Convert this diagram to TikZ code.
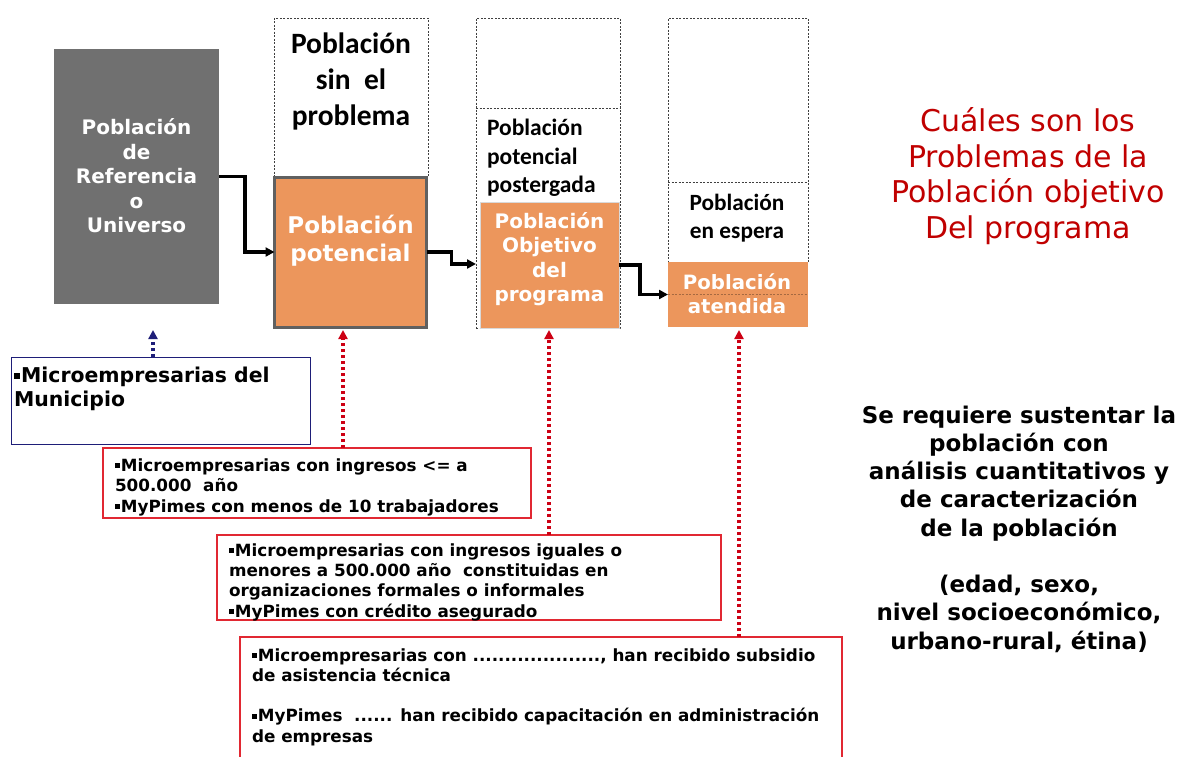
\documentclass[tikz,border=0pt]{standalone}
\usepackage{fontspec}
\setmainfont{DejaVu Sans}
\newfontfamily\calib{Carlito}
\usetikzlibrary{arrows.meta}
\definecolor{orng}{RGB}{236,150,92}
\definecolor{grybox}{RGB}{112,112,112}
\definecolor{grybord}{RGB}{96,96,96}
\definecolor{navyc}{RGB}{30,30,120}
\definecolor{redc}{RGB}{225,40,50}
\definecolor{dotred}{RGB}{205,0,20}
\definecolor{titred}{RGB}{192,0,0}
\newcommand\fsz[2]{\fontsize{#1}{#2}\selectfont}
\newcommand\bul{\raisebox{0.2em}{\rule{0.27em}{0.27em}}\hspace{0.08em}}
\tikzset{
  box/.style={rectangle, inner sep=0pt, outer sep=0pt},
  dbox/.style={box, draw=black!75, dashed, dash pattern=on 2pt off 1.5pt, line width=0.8pt},
  obox/.style={box, fill=orng},
  txt/.style={inner sep=0pt, outer sep=0pt},
  flow/.style={line width=3.2pt, -{Triangle[length=9pt,width=9pt]}},
  reddot/.style={dotred, line width=3.5pt, dash pattern=on 3pt off 3pt, -{Triangle[length=9pt,width=9pt]}},
  bluedot/.style={navyc, line width=3.5pt, dash pattern=on 3pt off 3pt, -{Triangle[length=9pt,width=9pt]}},
  rbox/.style={box, draw=redc, line width=1.2pt},
}
\begin{document}
\begin{tikzpicture}[x=1pt,y=-1pt]
\useasboundingbox (0,0) rectangle (1181,756);
% column 1
\node[box, fill=grybox, minimum width=165pt, minimum height=255pt] (gray) at (136.5,176.5) {};
\node[txt, text=white, align=center, font=\bfseries\fsz{20}{24.5}] (graytxt) at (136.5,176) {Población\\de\\Referencia\\o\\Universo};
% column 2
\node[dbox, minimum width=154pt, minimum height=158pt] (sinp) at (351,97) {};
\node[txt, align=center, font=\calib\bfseries\fsz{29.5}{36}] (sinptxt) at (351,81) {Población\\sin\ \ el\\problema};
\node[obox, draw=grybord, line width=3pt, minimum width=152pt, minimum height=150pt] (pot) at (350.5,252) {};
\node[txt, text=white, align=center, font=\bfseries\fsz{23}{28}] (pottxt) at (350.5,241) {Población\\potencial};
% column 3
\node[dbox, minimum width=144pt, minimum height=310pt] (col3) at (548,173) {};
\draw[black!75, dashed, dash pattern=on 2pt off 1.5pt, line width=0.8pt] (col3.west |- 0,108) coordinate (c3l) -- (col3.east |- 0,108) coordinate (c3r);
\node[txt, anchor=west, align=left, font=\calib\bfseries\fsz{23.5}{28.5}] (postxt) at (487,158) {Población\\potencial\\postergada};
\node[obox, draw=black!15, line width=1pt, minimum width=139pt, minimum height=126pt] (obj) at (549.5,265) {};
\node[txt, text=white, align=center, font=\bfseries\fsz{20}{24.5}] (objtxt) at (549.5,259) {Población\\Objetivo\\del\\programa};
% column 4
\node[dbox, minimum width=140pt, minimum height=244pt] (col4) at (738,140) {};
\draw[black!75, dashed, dash pattern=on 2pt off 1.5pt, line width=0.8pt] (col4.west |- 0,182) coordinate (c4l) -- (col4.east |- 0,182) coordinate (c4r);
\node[txt, align=center, font=\calib\bfseries\fsz{23.3}{28}] (esptxt) at (737,218) {Población\\en espera};
\node[obox, minimum width=140pt, minimum height=65pt] (ate) at (738,294.5) {};
\draw[orng!70!black, dashed, dash pattern=on 2pt off 1.5pt, line width=0.6pt] (ate.west) -- (ate.east);
\node[txt, text=white, align=center, font=\bfseries\fsz{19.7}{24}] (atetxt) at (737,293.5) {Población\\atendida};
% flow arrows
\draw[flow] (gray.east) -- ++(26,0) |- (pot.west);
\draw[flow] (pot.east) -- ++(25,0) |- ([xshift=-4pt,yshift=1pt]obj.west);
\draw[flow] (obj.east) -- ++(21,0) |- (ate.west);
% description boxes
\node[box, draw=navyc, line width=1pt, minimum width=299pt, minimum height=87pt] (blue) at (160.5,400.5) {};
\node[txt, anchor=west, align=left, font=\bfseries\fsz{20.4}{24}] (bluetxt) at (14,389) {\bul Microempresarias del\\Municipio};
\node[rbox, minimum width=428pt, minimum height=70pt] (red1) at (317,483) {};
\node[txt, anchor=west, align=left, font=\bfseries\fsz{16.8}{20.5}] (red1txt) at (115,487) {\bul Microempresarias con ingresos <= a\\500.000\ \ año\\\bul MyPimes con menos de 10 trabajadores};
\node[rbox, minimum width=504pt, minimum height=85pt] (red2) at (469,577.5) {};
\node[txt, anchor=west, align=left, font=\bfseries\fsz{16.8}{20.3}] (red2txt) at (229,582) {\bul Microempresarias con ingresos iguales o\\menores a 500.000 año\ \ constituidas en\\organizaciones formales o informales\\\bul MyPimes con crédito asegurado};
\node[rbox, minimum width=602pt, minimum height=124pt] (red3) at (541,699) {};
\node[txt, anchor=west, align=left, font=\bfseries\fsz{16.8}{20.3}] (red3txt) at (252,697) {\bul Microempresarias con ...................., han recibido subsidio\\de asistencia técnica\\[20.3pt]\bul MyPimes\ \ ...... han recibido capacitación en administración\\de empresas};
% dotted arrows
\coordinate (bt) at (153,330);
\draw[bluedot] (blue.north -| bt) -- (bt);
\coordinate (rt1) at (343,330);
\draw[reddot] (red1.north -| rt1) -- (rt1);
\coordinate (rt2) at (549,330);
\draw[reddot] (red2.north -| rt2) -- (rt2);
\coordinate (rt3) at (739,330);
\draw[reddot] (red3.north -| rt3) -- (rt3);
% right side texts
\node[txt, text=titred, align=center, font=\fsz{30}{35.5}] (title) at (1028,176) {Cuáles son los\\Problemas de la\\Población objetivo\\Del programa};
\node[txt, align=center, font=\bfseries\fsz{23}{28.25}] (note) at (1019,529) {Se requiere sustentar la\\población con\\análisis cuantitativos y\\de caracterización\\de la población\\[28.25pt](edad, sexo,\\nivel socioeconómico,\\urbano-rural, étina)};
\end{tikzpicture}
\end{document}
